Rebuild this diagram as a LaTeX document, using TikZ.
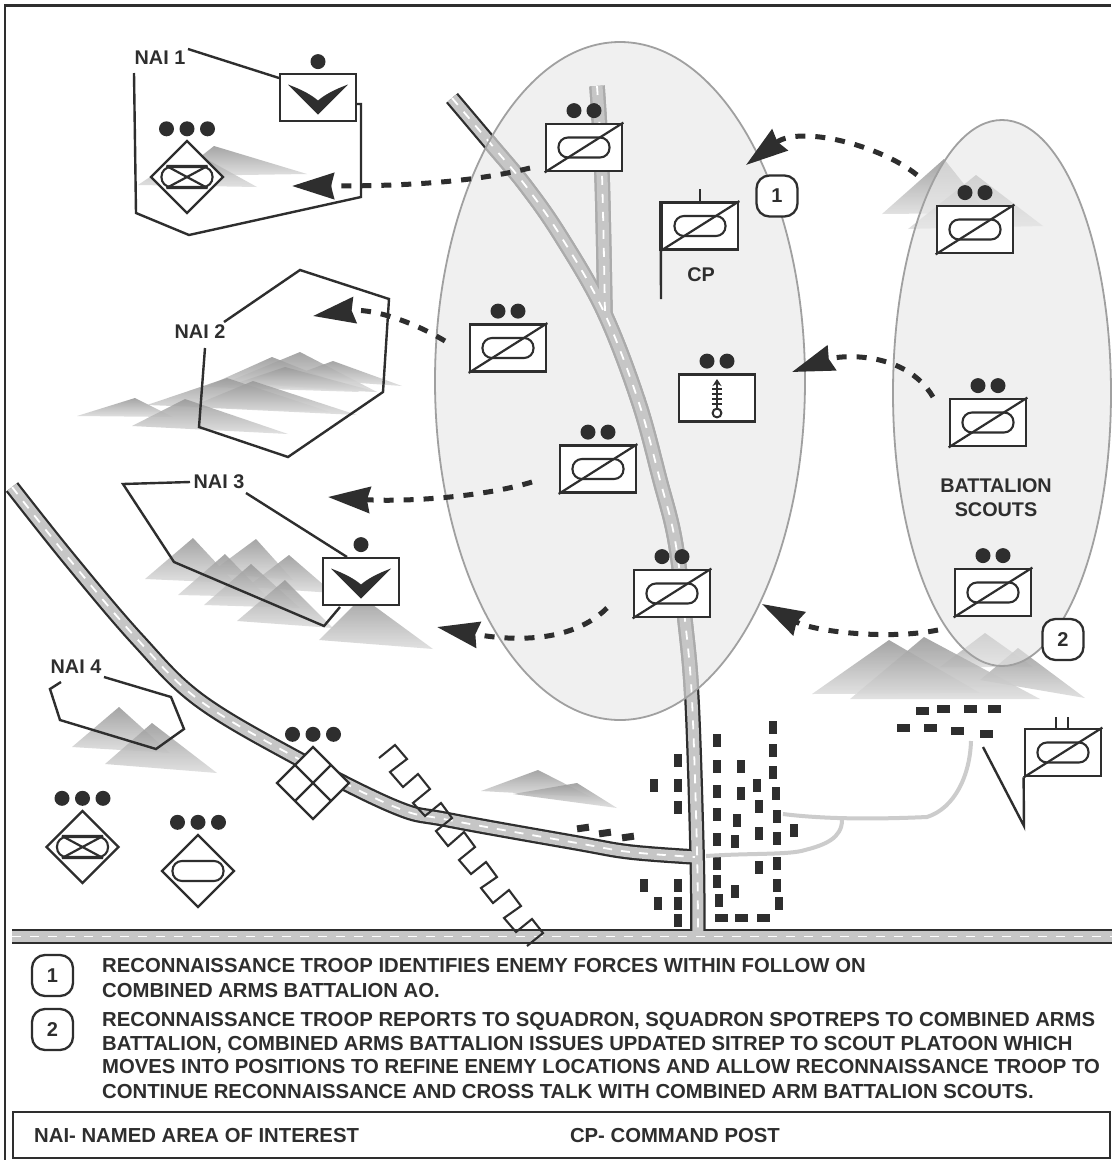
\documentclass[tikz,border=0pt]{standalone}
\usepackage{fontspec}
\setmainfont{Liberation Sans}
\usetikzlibrary{arrows.meta,positioning,calc}
\definecolor{ink}{HTML}{2E2E2E}
\definecolor{roadgray}{HTML}{C6C6C6}
\definecolor{roadedge}{HTML}{ABABAB}
\definecolor{trail}{HTML}{CCCCCC}
\definecolor{ellfill}{HTML}{E8E8E8}
\definecolor{ellline}{HTML}{A0A0A0}
\newcommand{\RoadA}{plot[smooth,tension=.6] coordinates {(452,98)(490,143)(525,185)(560,235)(603,310)(638,400)(660,480)(675,540)(685,620)(692,700)(697,850)(698,936)}}
\newcommand{\RoadB}{plot[smooth,tension=.6] coordinates {(597,86)(602,175)(605,315)}}
\newcommand{\RoadC}{plot[smooth,tension=.6] coordinates {(12,487)(70,560)(138,640)(199,700)(295,757)(395,807)(449,820)(577,843)(630,852)(695,857)}}
\newcommand{\RoadD}{(12,936.5) -- (1112,936.5)}
\newcommand{\mtn}[3]{\shade[top color=black!40,bottom color=black!13,opacity=.88] (#1)--(#2)--(#3)--cycle;}
\newcommand{\bldV}[1]{\fill[ink] ($(#1)+(-4,-6.5)$) rectangle ($(#1)+(4,6.5)$);}
\newcommand{\bldH}[1]{\fill[ink] ($(#1)+(-6.5,-4)$) rectangle ($(#1)+(6.5,4)$);}
\newcommand{\twodots}[1]{\fill[ink] ([shift={(-10,-12)}]#1.north) circle (7.5) ([shift={(10,-12)}]#1.north) circle (7.5);}
\newcommand{\threedots}[1]{\fill[ink] ([shift={(-20.5,-12)}]#1.north) circle (7.5) ([shift={(0,-12)}]#1.north) circle (7.5) ([shift={(20.5,-12)}]#1.north) circle (7.5);}
\newcommand{\slashoval}[1]{\node[ovalshape] at (#1) {}; \draw[thinline] (#1.south west) -- (#1.north east);}
\newcommand{\chevron}[1]{\fill[ink,shift={(#1)}] (-30,-13) .. controls (-14,-7) and (-6,-2) .. (0,3) .. controls (6,-2) and (14,-7) .. (30,-13) -- (0,17) -- cycle;}
\tikzset{
  x=1pt,y=-1pt,
  unitbox/.style={draw=ink,fill=white,line width=2.8pt,rectangle,minimum width=76pt,minimum height=47pt,inner sep=0pt},
  ovalshape/.style={draw=ink,line width=2.1pt,rectangle,rounded corners=9.5pt,minimum width=51pt,minimum height=20pt,inner sep=0pt},
  thinline/.style={draw=ink,line width=2.2pt},
  nailine/.style={draw=ink,line width=2.4pt},
  diam/.style={draw=ink,fill=white,line width=2.3pt,line join=miter},
  movearrow/.style={draw=ink,line width=5pt,dash pattern=on 10pt off 10pt,-{Stealth[length=42pt,width=26pt,inset=3pt,fill=ink]}},
  trailline/.style={draw=trail,line width=4pt},
  txt/.style={font=\bfseries\fontsize{19.8}{24}\selectfont,text=ink,inner sep=0pt},
  legend/.style={font=\bfseries\fontsize{20.3}{24}\selectfont,text=ink,inner sep=0pt,anchor=base west},
  num/.style={draw=ink,fill=white,line width=2.3pt,rectangle,rounded corners=13pt,minimum width=41pt,minimum height=41pt,inner sep=0pt,font=\bfseries\fontsize{20}{24}\selectfont,text=ink},
}
\begin{document}
\begin{tikzpicture}
\useasboundingbox (0,0) rectangle (1112,1160);
\fill[white] (0,0) rectangle (1112,1160);
% roads
\foreach \p in {\RoadA,\RoadB,\RoadC,\RoadD} {\draw[ink,line width=15.5pt] \p;}
\foreach \p in {\RoadA,\RoadB,\RoadC,\RoadD} {\draw[roadgray,line width=11pt] \p;}
\foreach \p in {\RoadA,\RoadB,\RoadC,\RoadD} {\draw[white,line width=1.8pt,dash pattern=on 9pt off 9pt] \p;}
% mountains
\mtn{214,146}{176,176}{307,174}\mtn{190,150}{138,185}{257,187}
\mtn{300,352}{220,385}{377,392}\mtn{333,361}{287,378}{402,386}\mtn{272,357}{205,387}{360,392}
\mtn{285,367}{237,383}{377,392}\mtn{227,378}{147,405}{330,412}\mtn{253,381}{190,407}{357,415}
\mtn{135,398}{77,416}{173,417}\mtn{185,399}{132,426}{288,434}
\mtn{193,538}{145,579}{235,583}\mtn{256,539}{210,573}{293,580}\mtn{225,554}{178,595}{267,597}
\mtn{289,555}{247,587}{333,593}\mtn{251,564}{204,605}{300,608}\mtn{285,580}{237,621}{333,628}
\mtn{362,597}{319,640}{433,649}
\mtn{119,707}{72,747}{170,753}\mtn{152,723}{105,764}{217,773}
\mtn{538,770}{481,791}{591,797}\mtn{577,783}{513,794}{617,808}
\mtn{944,159}{882,214}{987,213}\mtn{976,175}{908,229}{1043,226}
\mtn{889,640}{812,694}{980,693}\mtn{985,633}{940,667}{1033,667}\mtn{1018,648}{980,680}{1085,698}\mtn{924,637}{850,699}{1040,699}
% zigzag obstacle
\draw[nailine,line width=2.1pt,line join=miter] (379,758)--(395,745)--(407,759)--(390,772)--(403,787)--(418,774)--(430,789)--(413,803)--(425,816)--(441,803)--(452,818)--(436,831)--(448,846)--(464,832)--(475,847)--(459,860)--(471,874)--(486,862)--(497,877)--(481,888)--(493,903)--(509,890)--(521,906)--(504,918)--(516,932)--(532,919)--(543,933)--(527,946);
% buildings
\foreach \x/\y in {235/240,162/315,235/315,235/383,352/181,352/258,352/333,352/403,352/479,352/550,352/604,356/660,424/258,424/340,412/422,404/484,404/633,471/315,478/378,478/459,478/562,520/143,520/211,520/277,527/340,532/410,532/476,532/550,532/615,538/671,583/452,133/615,235/615,173/671,235/671,235/722}
  {\bldV{{600+\x/3},{680+\y/3}}}
\foreach \x/\y in {363/714,424/714,490/714,966/94,1030/87,1112/87,1184/87,910/143,991/143,1073/153,1158/161}
  {\bldH{{600+\x/3},{680+\y/3}}}
\foreach \x/\y/\a in {583/828/8,605/833/8,628/837/8}
  {\fill[ink,rotate around={\a:(\x,\y)}] (\x-6,\y-3.5) rectangle (\x+6,\y+3.5);}
% trails
\draw[trailline] (783,814) .. controls (815,818) and (860,820) .. (927,817) .. controls (955,808) and (970,775) .. (971,741);
\draw[trailline] (706,856) .. controls (750,853) and (790,855) .. (805,850) .. controls (825,845) and (842,838) .. (842,820);
% named areas of interest
\node[txt] (nai1) at (160,58) {NAI 1};
\coordinate (n1a) at (134,73);
\coordinate (n1z) at (279,78);
\draw[nailine] (n1a)--(136,213)--(189,235)--(361,197)--(361,104)--(357,104);
\draw[nailine] (188,49)--(n1z);
\node[txt] (nai2) at (200,332) {NAI 2};
\draw[nailine] (205,348)--(199,427)--(288,457)--(383,392)--(389,299)--(300,270)--(224,322);
\node[txt] (nai3) at (219,482) {NAI 3};
\draw[nailine] (190,482)--(123,484)--(174,562)--(324,626)--(340,607);
\draw[nailine] (246,493)--(347,557);
\node[txt] (nai4) at (76,667) {NAI 4};
\draw[nailine] (61,682)--(50,689)--(60,720)--(156,749)--(184,729)--(171,697)--(104,677);
% AO ellipses
\fill[ellfill,opacity=.65] (620,381) ellipse [x radius=185,y radius=339];
\begin{scope}
\clip (620,381) ellipse [x radius=185,y radius=339];
\foreach \p in {\RoadA,\RoadB} {\draw[roadedge,line width=15.5pt] \p;}
\foreach \p in {\RoadA,\RoadB} {\draw[roadgray,line width=11pt] \p;}
\foreach \p in {\RoadA,\RoadB} {\draw[white,line width=1.8pt,dash pattern=on 9pt off 9pt] \p;}
\end{scope}
\draw[ellline,line width=1.8pt] (620,381) ellipse [x radius=185,y radius=339];
\fill[ellfill,opacity=.65] (1002,393) ellipse [x radius=109,y radius=273];
\draw[ellline,line width=1.8pt] (1002,393) ellipse [x radius=109,y radius=273];
% frame
\draw[ink,line width=2.6pt] (5,1160)--(5,5.5)--(1111,5.5);
% units
\node[unitbox] (u1) at (584,147.5) {}; \twodots{u1}\slashoval{u1}
\node[unitbox] (u2) at (700,226) {}; \slashoval{u2}
\draw[ink,line width=2.4pt] (u2.north)--++(0,-12);
\draw[ink,line width=2.4pt] (u2.north west)--(661,299);
\draw[ink,line width=3.6pt] (u2.north west)--(u2.south west);
\node[txt] (cp) at (701,275) {CP};
\node[unitbox] (u3) at (508,348) {}; \twodots{u3}\slashoval{u3}
\node[unitbox] (u4) at (717,398) {}; \twodots{u4}
\draw[ink,line width=2pt,-{Stealth[length=7pt,width=9pt]}] ([shift={(0,11)}]u4.center)--([shift={(0,-19)}]u4.center);
\draw[ink,line width=2pt,fill=white] ([shift={(0,15)}]u4.center) circle (4.4);
\foreach \d in {-9,-4,1,6} {\draw[ink,line width=1.6pt] ([shift={(-5,\d)}]u4.center)--([shift={(5,\d)}]u4.center);}
\node[unitbox] (u5) at (598,469) {}; \twodots{u5}\slashoval{u5}
\node[unitbox] (u6) at (672,593.5) {}; \twodots{u6}\slashoval{u6}
\node[unitbox] (u7) at (975,229.5) {}; \twodots{u7}\slashoval{u7}
\node[unitbox] (u8) at (988,422.5) {}; \twodots{u8}\slashoval{u8}
\node[unitbox] (u9) at (993,592.5) {}; \twodots{u9}\slashoval{u9}
\node[unitbox] (u10) at (1063,752.5) {}; \slashoval{u10}
\draw[ink,line width=2.2pt] ([xshift=-7pt]u10.north)--++(0,-11) ([xshift=5pt]u10.north)--++(0,-11);
\coordinate (u10foot) at (1024,826);
\draw[ink,line width=2.4pt] (983,747)--(u10foot)--(u10.south west);
\node[txt,align=center] (bn) at (996,498) {BATTALION\\SCOUTS};
% troops
\node[unitbox] (t1) at (318,97.5) {}; \fill[ink] ([shift={(0,-11)}]t1.north) circle (7.5); \chevron{t1.center}
\node[unitbox] (t3) at (361,581.5) {}; \fill[ink] ([shift={(0,-12)}]t3.north) circle (7.5); \chevron{t3.center}
% battalion-size symbols
\coordinate (d1) at (187,177);
\node[inner sep=0pt,minimum size=0pt] (d1n) at (187,141) {};
\draw[diam] (187,141)--(223,177)--(187,213)--(151,177)--cycle;
\threedots{d1n}
\node[ovalshape] (ov1) at (d1) {};
\draw[thinline] ([xshift=6pt]ov1.north west)--([xshift=-6pt]ov1.south east) ([xshift=6pt]ov1.south west)--([xshift=-6pt]ov1.north east) ([xshift=6pt]ov1.north west)--([xshift=-6pt]ov1.north east) ([xshift=6pt]ov1.south west)--([xshift=-6pt]ov1.south east);
\coordinate (d2) at (82.5,847);
\node[inner sep=0pt] (d2n) at (82.5,811) {};
\draw[diam] (82.5,811)--(118.5,847)--(82.5,883)--(46.5,847)--cycle;
\threedots{d2n}
\node[ovalshape] (ov2) at (d2) {};
\draw[thinline] ([xshift=6pt]ov2.north west)--([xshift=-6pt]ov2.south east) ([xshift=6pt]ov2.south west)--([xshift=-6pt]ov2.north east) ([xshift=6pt]ov2.north west)--([xshift=-6pt]ov2.north east) ([xshift=6pt]ov2.south west)--([xshift=-6pt]ov2.south east);
\coordinate (d3) at (198,871);
\node[inner sep=0pt] (d3n) at (198,835) {};
\draw[diam] (198,835)--(234,871)--(198,907)--(162,871)--cycle;
\threedots{d3n}
\node[ovalshape] (ov3) at (d3) {};
\node[inner sep=0pt] (d4n) at (313,747) {};
\draw[diam] (313,747)--(349,783)--(313,819)--(277,783)--cycle;
\threedots{d4n}
\draw[thinline] (295,765)--(331,801) (331,765)--(295,801);
% movement arrows
\coordinate (a1s) at (530,168); \coordinate (a1e) at (292,186);
\draw[movearrow] (a1s) .. controls (470,183) and (400,186) .. (a1e);
\coordinate (a2s) at (917,175); \coordinate (a2e) at (746,165);
\draw[movearrow] (a2s) .. controls (880,145) and (800,125) .. (a2e);
\coordinate (a3s) at (445,341); \coordinate (a3e) at (313,316);
\draw[movearrow] (a3s) .. controls (410,320) and (370,308) .. (a3e);
\coordinate (a4s) at (532,482); \coordinate (a4e) at (328,497);
\draw[movearrow] (a4s) .. controls (480,498) and (400,502) .. (a4e);
\coordinate (a5s) at (607,608); \coordinate (a5e) at (437,627);
\draw[movearrow] (a5s) .. controls (565,650) and (490,637) .. (a5e);
\coordinate (a6s) at (933,397); \coordinate (a6e) at (792,372);
\draw[movearrow] (a6s) .. controls (905,350) and (840,355) .. (a6e);
\coordinate (a7s) at (938,630); \coordinate (a7e) at (762,604);
\draw[movearrow] (a7s) .. controls (890,640) and (815,632) .. (a7e);
% step numbers
\node[num] (s1) at (777,196) {1};
\node[num] (s2) at (1063,639.5) {2};
\node[num] (k1) at (52.5,975.5) {1};
\node[num] (k2) at (52.5,1029.5) {2};
% legend text
\node[legend] (l1) at (102,972) {RECONNAISSANCE TROOP IDENTIFIES ENEMY FORCES WITHIN FOLLOW ON};
\node[legend] (l2) at (102,997) {COMBINED ARMS BATTALION AO.};
\node[legend] (l3) at (102,1026) {RECONNAISSANCE TROOP REPORTS TO SQUADRON, SQUADRON SPOTREPS TO COMBINED ARMS};
\node[legend] (l4) at (102,1050) {BATTALION, COMBINED ARMS BATTALION ISSUES UPDATED SITREP TO SCOUT PLATOON WHICH};
\node[legend] (l5) at (102,1073) {MOVES INTO POSITIONS TO REFINE ENEMY LOCATIONS AND ALLOW RECONNAISSANCE TROOP TO};
\node[legend] (l6) at (102,1098) {CONTINUE RECONNAISSANCE AND CROSS TALK WITH COMBINED ARM BATTALION SCOUTS.};
\draw[ink,line width=2pt] (13,1158)--(13,1112)--(1110,1112)--(1110,1158)--cycle;
\node[legend] (g1) at (34,1142) {NAI- NAMED AREA OF INTEREST};
\node[legend,anchor=base east] (g2) at (780,1142) {CP- COMMAND POST};
\end{tikzpicture}
\end{document}
